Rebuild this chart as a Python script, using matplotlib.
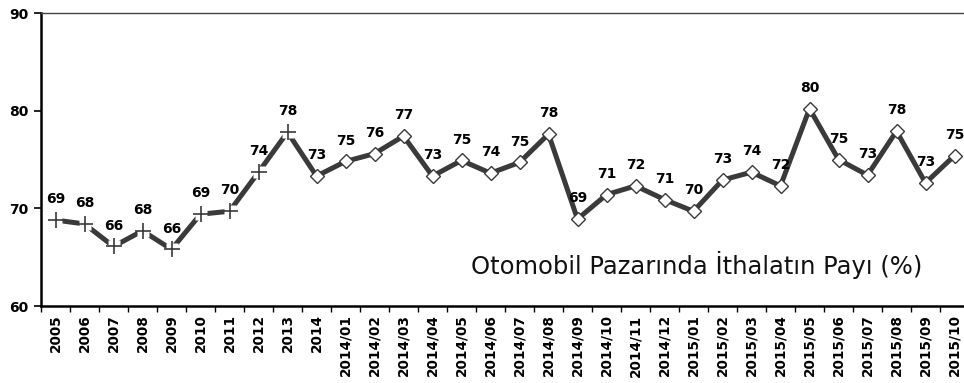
import numpy as np
import matplotlib.pyplot as plt

# Dönemler ve ithalat payı (%)
donemler = ['2005', '2006', '2007', '2008', '2009', '2010', '2011', '2012', '2013', '2014',
            '2014/01', '2014/02', '2014/03', '2014/04', '2014/05', '2014/06', '2014/07',
            '2014/08', '2014/09', '2014/10', '2014/11', '2014/12',
            '2015/01', '2015/02', '2015/03', '2015/04', '2015/05', '2015/06', '2015/07',
            '2015/08', '2015/09', '2015/10']
pay = [68.8, 68.4, 66.1, 67.7, 65.8, 69.4, 69.7, 73.7, 77.8, 73.3,
       74.8, 75.6, 77.4, 73.3, 74.9, 73.6, 74.7, 77.6, 68.9, 71.4, 72.3, 70.9,
       69.7, 72.9, 73.7, 72.3, 80.2, 75.0, 73.4, 77.9, 72.6, 75.4]
yillik_adet = 9  # 2005-2013 yıllık veriler '+' ile gösteriliyor

renk = '#3a3a3a'
x = np.arange(len(donemler))

fig = plt.figure(figsize=(9.64, 3.83), dpi=100)
ax = fig.add_axes([41 / 964, 77 / 383, 928 / 964, 293 / 383])

ax.plot(x, pay, color=renk, linewidth=3.6, zorder=2)

# yıllık noktalar: beyaz zemin üstünde artı işareti
ax.plot(x[:yillik_adet], pay[:yillik_adet], linestyle='none', marker='s',
        markersize=9, markerfacecolor='white', markeredgecolor='none', zorder=3)
ax.plot(x[:yillik_adet], pay[:yillik_adet], linestyle='none', marker='+',
        markersize=11, markeredgewidth=1.2, color=renk, zorder=4)
# aylık noktalar: beyaz baklava
ax.plot(x[yillik_adet:], pay[yillik_adet:], linestyle='none', marker='D',
        markersize=7, markerfacecolor='white', markeredgecolor=renk,
        markeredgewidth=1.0, zorder=4)

for xi, v in zip(x, pay):
    ax.annotate(f'{v:.0f}', (xi, v), xytext=(0, 15), textcoords='offset points',
                ha='center', va='center', fontsize=10, fontweight='bold', zorder=5)

ax.text(29.9, 64.2, 'Otomobil Pazarında İthalatın Payı (%)', ha='right', va='center',
        fontsize=17.5, color='#111111')

ax.set_xlim(-0.5, len(donemler) - 0.5)
ax.set_ylim(60, 90)
ax.set_yticks([60, 70, 80, 90])
ax.set_yticklabels(['60', '70', '80', '90'], fontsize=10, fontweight='bold')

ax.set_xticks(x)
ax.set_xticklabels(donemler, rotation=90, fontsize=9.8, fontweight='bold')
ax.set_xticks(np.arange(-0.5, len(donemler), 1), minor=True)
ax.tick_params(axis='x', which='major', length=0, pad=6)
ax.tick_params(axis='x', which='minor', length=4, width=1, direction='out')
ax.tick_params(axis='y', length=5, width=1.2, direction='out', pad=4)

for s in ['left', 'bottom']:
    ax.spines[s].set_linewidth(1.8)
    ax.spines[s].set_color('black')
ax.spines['top'].set_linewidth(1.0)
ax.spines['top'].set_color('#444444')
ax.spines['right'].set_visible(False)

fig.savefig('out.png', dpi=100)
